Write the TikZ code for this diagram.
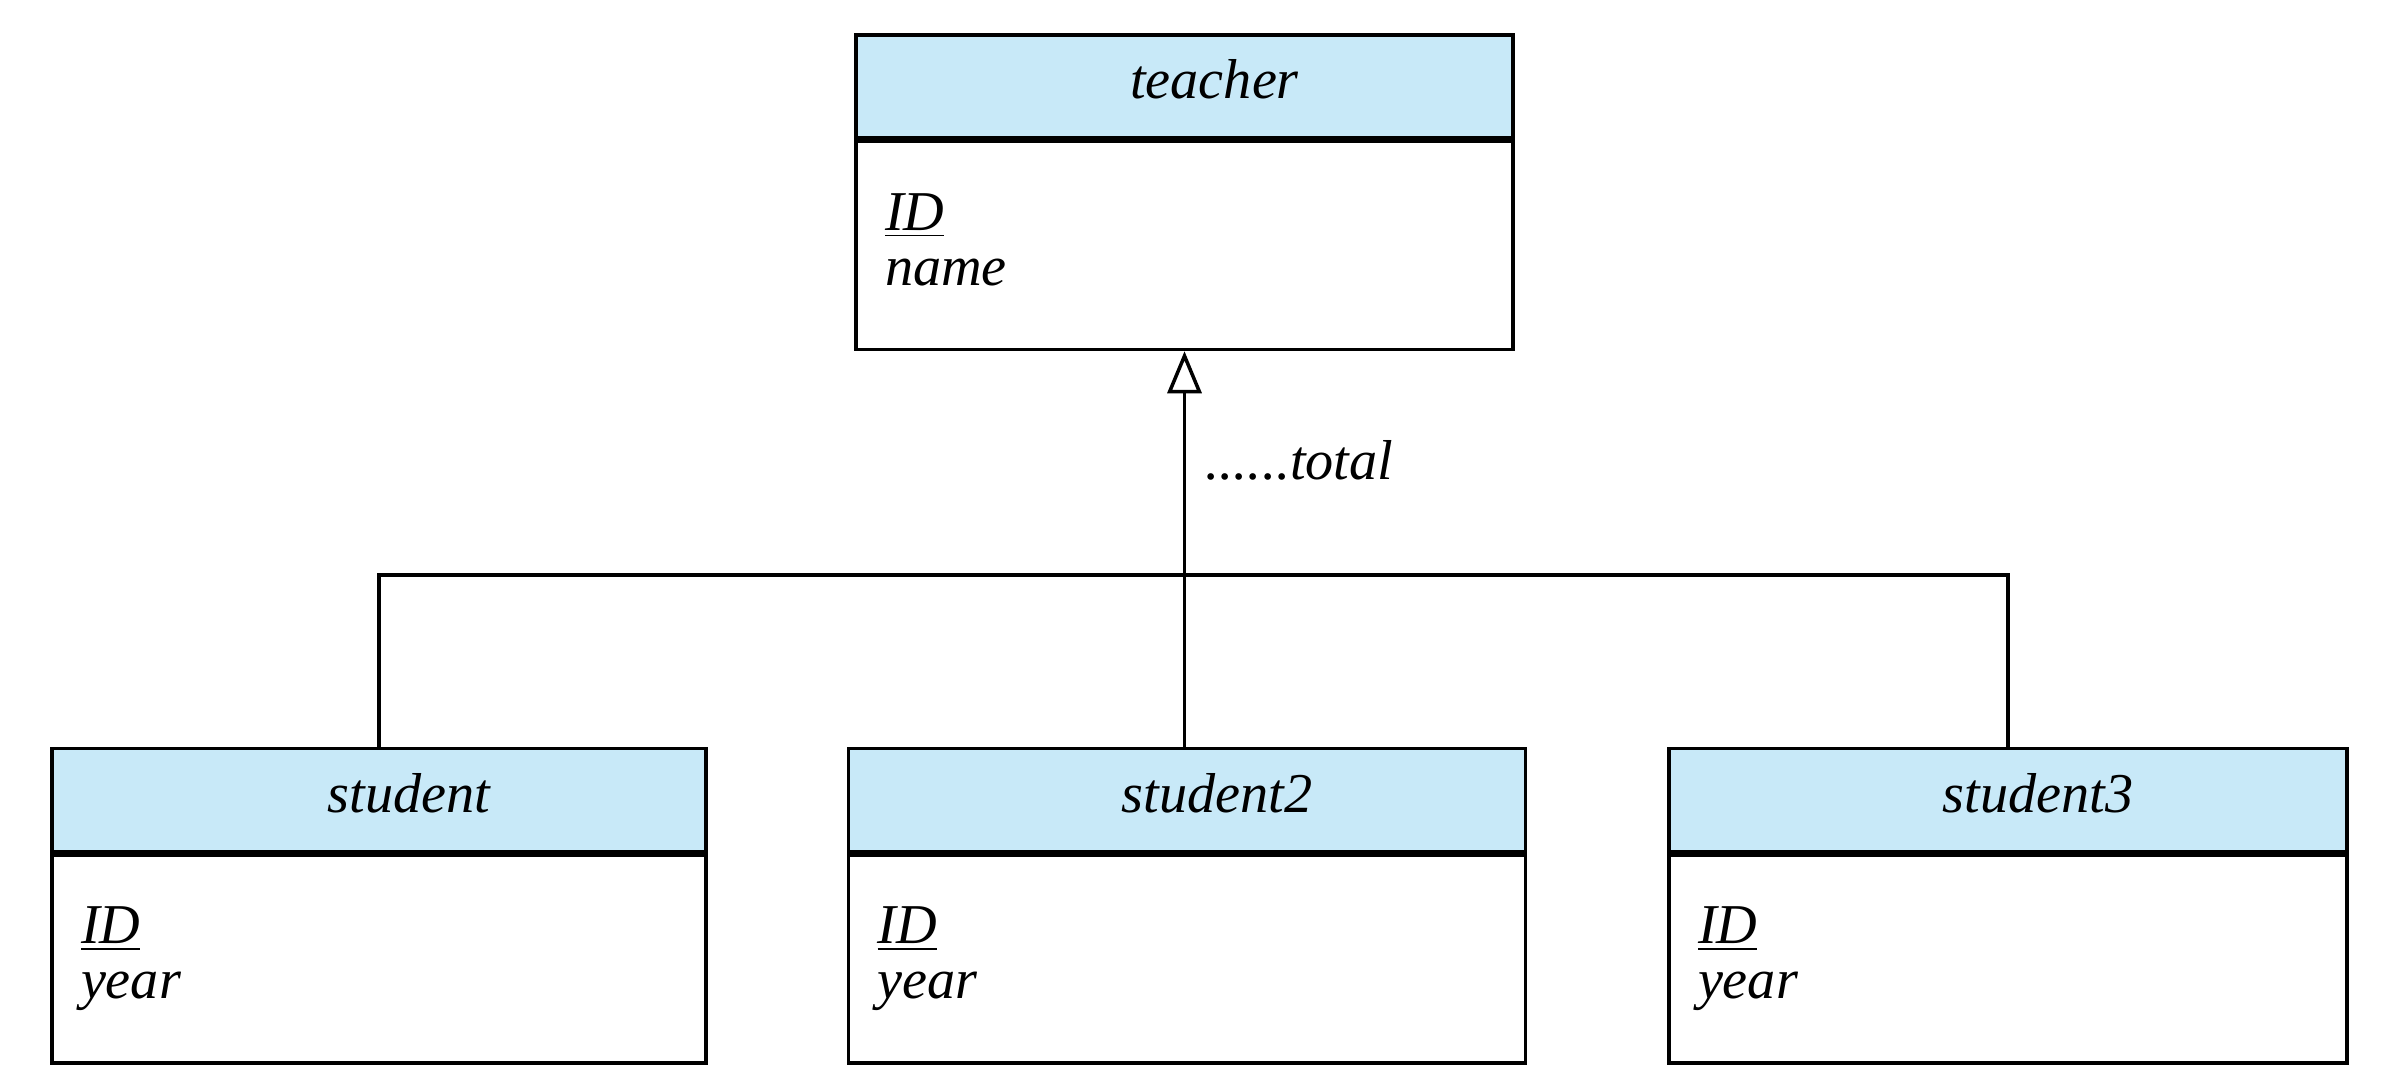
\documentclass[tikz,border=0pt]{standalone}
\usepackage{fontspec}
\setmainfont{Liberation Serif}
\usepackage{tikz}
\usetikzlibrary{arrows.meta,positioning}
\definecolor{headblue}{RGB}{200,233,248}

\begin{document}
\begin{tikzpicture}[>=latex, line width=1pt,
    headbox/.style={draw, fill=headblue, minimum height=1.03cm, inner sep=0pt},
    headtext/.style={xshift=0.30cm, yshift=0.07cm, inner sep=0pt,
      font=\fontsize{16}{16}\selectfont\itshape},
    attrbox/.style={draw, fill=white, align=left, inner xsep=0.29cm, inner ysep=0pt,
      minimum height=2.08cm, font=\fontsize{16}{15.6}\selectfont\itshape},
    isa/.style={-{Triangle[open, width=0.34cm, length=0.42cm]}}]

  \useasboundingbox (0,0) rectangle (23.96,-10.92);

  % superclass
  \node[headbox, minimum width=6.57cm, label={[headtext]center:teacher}] (thead) at (11.845,-0.865) {};
  \node[attrbox, text width=5.99cm, below=0pt of thead] (tbody) {\underline{ID}\\name\vphantom{y}};

  % subclasses
  \node[headbox, minimum width=6.54cm, label={[headtext]center:student}] (s1head) at (3.79,-8.00) {};
  \node[attrbox, text width=5.96cm, below=0pt of s1head] (s1body) {\underline{ID}\\year};

  \node[headbox, minimum width=6.77cm, label={[headtext]center:student2}] (s2head) at (11.87,-8.00) {};
  \node[attrbox, text width=6.19cm, below=0pt of s2head] (s2body) {\underline{ID}\\year};

  \node[headbox, minimum width=6.78cm, label={[headtext]center:student3}] (s3head) at (20.08,-8.00) {};
  \node[attrbox, text width=6.20cm, below=0pt of s3head] (s3body) {\underline{ID}\\year};

  % generalization
  \coordinate (join) at (11.845,-5.75);
  \draw (s1head.north) |- (join) -| (s3head.north);
  \draw[isa] (tbody.south |- s2head.north) -- (tbody.south);
  \node[anchor=base west, inner sep=0pt, font=\fontsize{16}{16}\selectfont\itshape] (lbl) at (12.04,-4.80) {......total};

\end{tikzpicture}
\end{document}
